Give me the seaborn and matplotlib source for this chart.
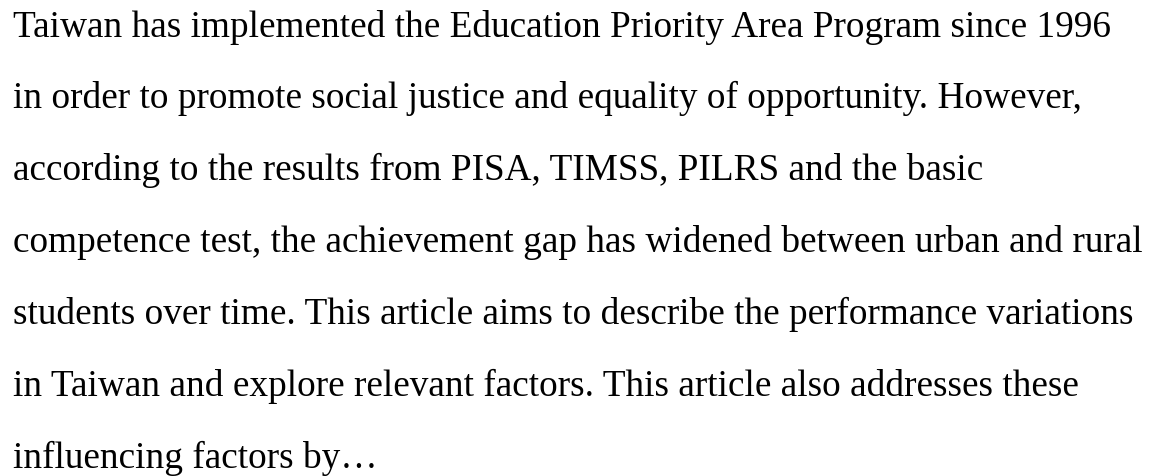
import matplotlib
matplotlib.use("Agg")
import matplotlib.pyplot as plt
import seaborn as sns

sns.set_theme(style="white")
plt.rcParams['font.family'] = ['Liberation Serif', 'DejaVu Serif']

lines = [
    "Taiwan has implemented the Education Priority Area Program since 1996",
    "in order to promote social justice and equality of opportunity. However,",
    "according to the results from PISA, TIMSS, PILRS and the basic",
    "competence test, the achievement gap has widened between urban and rural",
    "students over time. This article aims to describe the performance variations",
    "in Taiwan and explore relevant factors. This article also addresses these",
    "influencing factors by\u2026",
]

W, H = 1150, 477
fig = plt.figure(figsize=(W / 100, H / 100), dpi=100)
fig.patch.set_facecolor("white")

first_baseline = 36.6
spacing = 71.9
left = 13
for i, s in enumerate(lines):
    y = first_baseline + i * spacing
    fig.text(left / W, 1 - y / H, s, fontsize=26.8, color="black",
             ha="left", va="baseline")

fig.savefig("out.png", dpi=100, facecolor="white")
